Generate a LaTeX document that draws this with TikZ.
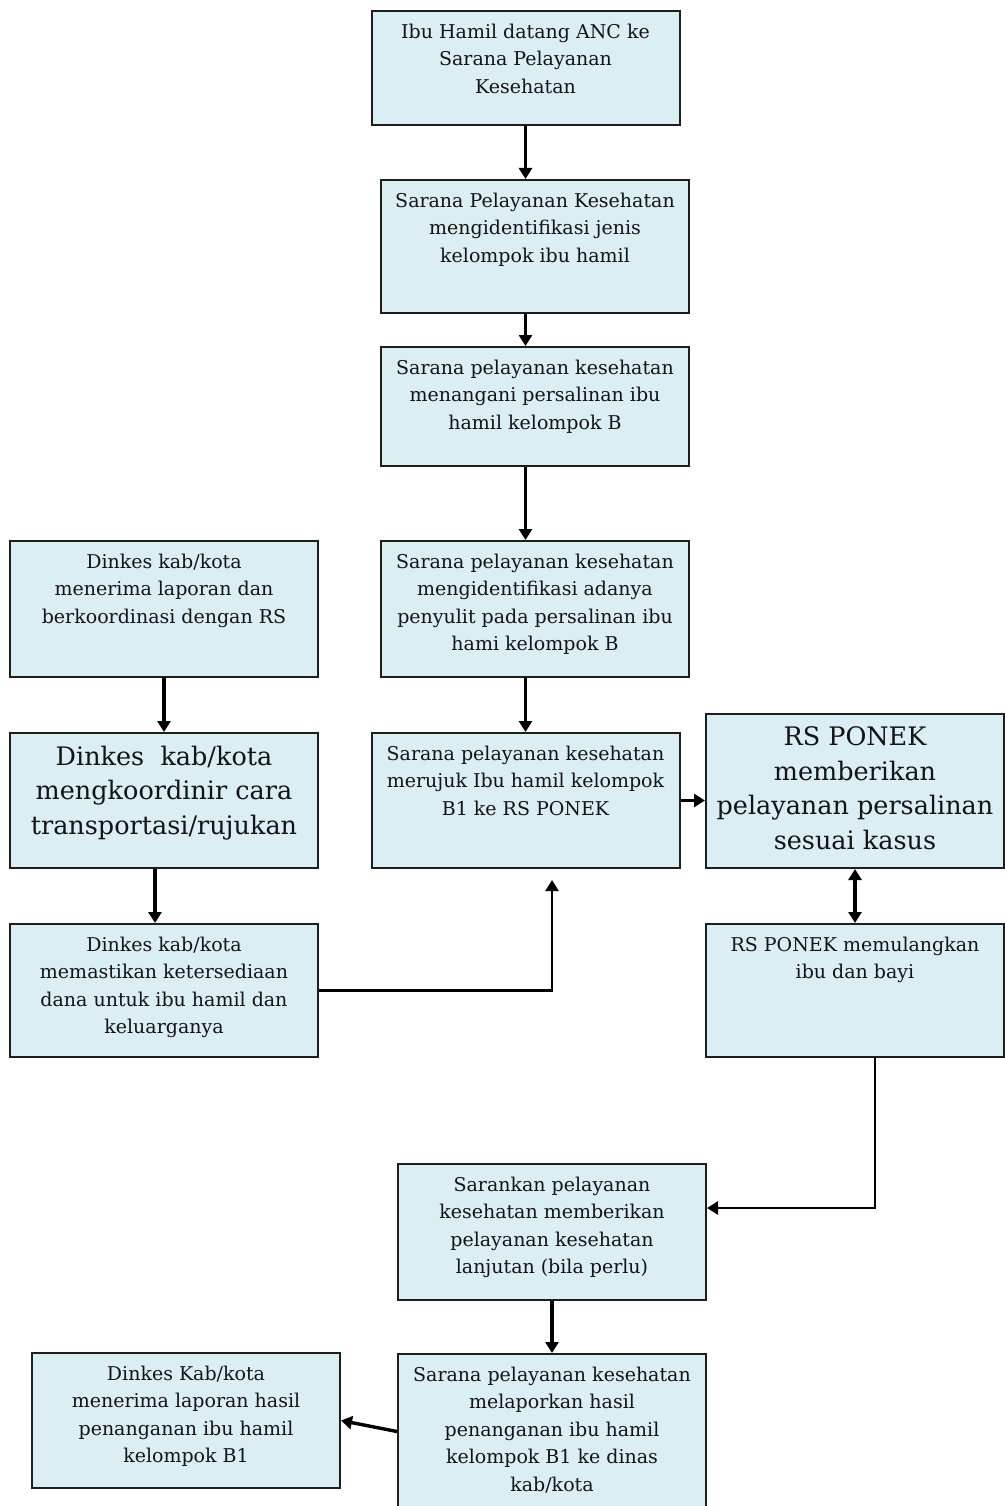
\documentclass[tikz,border=0pt]{standalone}
\usepackage{fontspec}
\setmainfont{DejaVu Serif}
\usetikzlibrary{arrows.meta}
\definecolor{boxfill}{HTML}{DBEEF4}
\definecolor{boxline}{HTML}{1E1E1E}
\definecolor{boxtext}{HTML}{141414}
% box content: height, width, text (top aligned)
\newcommand{\boxtxt}[3]{\parbox[c][#1pt][t]{#2pt}{\centering\vspace*{13pt}#3}}

\begin{document}
\begin{tikzpicture}[x=1pt,y=-1pt]
\tikzset{flowbox/.style={draw=boxline, line width=2pt, fill=boxfill, inner sep=0pt,
    minimum width=308pt, text=boxtext, font=\fontsize{19}{27.5}\selectfont},
  bigtxt/.style={font=\fontsize{25.5}{34.5}\selectfont},
  flow/.style={line width=3.4pt, -{Triangle[length=11pt,width=13pt]}},
  thinflow/.style={line width=2.4pt, -{Triangle[length=11pt,width=13pt]}}}
\useasboundingbox (0,0) rectangle (1004,1506);
% middle column
\node [flowbox] (anc) at (525.5,68) {\boxtxt{114}{300}{Ibu Hamil datang ANC ke\\Sarana Pelayanan\\Kesehatan}};
\node [flowbox] (ident) at (535,246.5) {\boxtxt{133}{300}{Sarana Pelayanan Kesehatan\\mengidentifikasi jenis\\kelompok ibu hamil}};
\node [flowbox] (tangani) at (535,406.5) {\boxtxt{119}{300}{Sarana pelayanan kesehatan\\menangani persalinan ibu\\hamil kelompok B}};
\node [flowbox] (penyulit) at (535,609) {\boxtxt{136}{300}{Sarana pelayanan kesehatan\\mengidentifikasi adanya\\penyulit pada persalinan ibu\\hami kelompok B}};
\node [flowbox] (rujuk) at (525.5,800.5) {\boxtxt{135}{300}{Sarana pelayanan kesehatan\\merujuk Ibu hamil kelompok\\B1 ke RS PONEK}};
% right column
\node [flowbox, bigtxt, minimum width=298pt] (ponek) at (855,791) {\boxtxt{154}{290}{RS PONEK\\memberikan\\pelayanan persalinan\\sesuai kasus}};
\node [flowbox, minimum width=298pt] (pulang) at (855,990.5) {\boxtxt{133}{290}{RS PONEK memulangkan\\ibu dan bayi}};
% left column
\node [flowbox] (dlapor) at (164,609) {\boxtxt{136}{300}{Dinkes kab/kota\\menerima laporan dan\\berkoordinasi dengan RS}};
\node [flowbox, bigtxt] (dkoord) at (164,800.5) {\boxtxt{135}{300}{Dinkes~ kab/kota\\mengkoordinir cara\\transportasi/rujukan}};
\node [flowbox] (ddana) at (164,990.5) {\boxtxt{133}{300}{Dinkes kab/kota\\memastikan ketersediaan\\dana untuk ibu hamil dan\\keluarganya}};
% bottom
\node [flowbox] (lanjut) at (552,1232) {\boxtxt{136}{300}{Sarankan pelayanan\\kesehatan memberikan\\pelayanan kesehatan\\lanjutan (bila perlu)}};
\node [flowbox] (lapor) at (552,1431.5) {\boxtxt{155}{300}{Sarana pelayanan kesehatan\\melaporkan hasil\\penanganan ibu hamil\\kelompok B1 ke dinas\\kab/kota}};
\node [flowbox] (dhasil) at (186,1420.5) {\boxtxt{135}{300}{Dinkes Kab/kota\\menerima laporan hasil\\penanganan ibu hamil\\kelompok B1}};
\coordinate (naik) at (552,880);

\draw [flow] (anc.south) -- (anc.south |- ident.north);
\draw [flow] (ident.south -| anc) -- (tangani.north -| anc);
\draw [flow] (tangani.south -| anc) -- (penyulit.north -| anc);
\draw [flow] (penyulit.south -| rujuk) -- (rujuk.north);
\draw [flow] (rujuk.east) -- (rujuk.east -| ponek.west);
\draw [flow, {Triangle[length=11pt,width=13pt]}-{Triangle[length=11pt,width=13pt]}] (ponek.south) -- (pulang.north);
\draw [flow] (dlapor.south) -- (dkoord.north);
\draw [flow] ([xshift=-9pt]dkoord.south) -- ([xshift=-9pt]ddana.north);
\draw [thinflow] (ddana.east) -| (naik);
\draw [thinflow] ([xshift=20pt]pulang.south) |- ([yshift=24pt]lanjut.east);
\draw [flow] (lanjut.south) -- (lapor.north);
\draw [flow] (lapor.west) -- (dhasil.east);
\end{tikzpicture}
\end{document}
